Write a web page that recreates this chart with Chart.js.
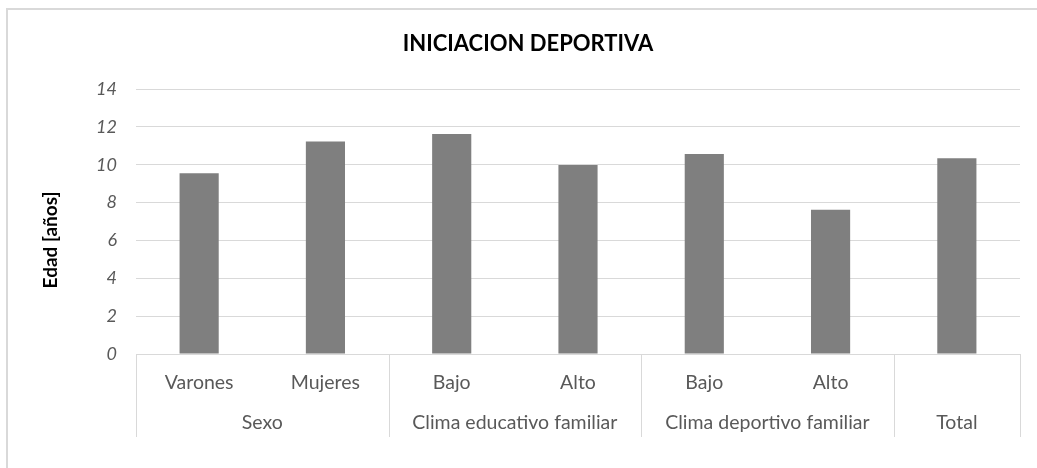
<!DOCTYPE html>
<html>
<head>
<meta charset="utf-8">
<script src="https://cdn.jsdelivr.net/npm/chart.js@4"></script>
<style>
  html, body { margin: 0; padding: 0; background: #fff; }
  #wrap { width: 1037px; height: 468px; }
</style>
</head>
<body>
<div id="wrap"><canvas id="barChart" width="1037" height="468"></canvas></div>
<script>
// values
var subLabels = ["Varones", "Mujeres", "Bajo", "Alto", "Bajo", "Alto", ""];
var edades = [9.55, 11.22, 11.62, 9.98, 10.57, 7.62, 10.34];
var grupos = ["Sexo", "Clima educativo familiar", "Clima deportivo familiar", "Total"];
var grupoSpan = [2, 2, 2, 1];
var yTicks = [0, 2, 4, 6, 8, 10, 12, 14];

var fontFam = "Lato, 'Open Sans', sans-serif";
var gridGray = '#d9d9d9';
var textGray = '#595959';

// title, axis title, grouped category row, outer frame
var extras = {
  id: 'extras',
  beforeDraw: function(chart) {
    var ctx = chart.ctx;
    ctx.save();
    ctx.strokeStyle = gridGray;
    ctx.lineWidth = 2;
    ctx.strokeRect(7, 9, 1200, 700);
    ctx.restore();
  },
  afterDraw: function(chart) {
    var ctx = chart.ctx;
    var xs = chart.scales.x;
    var area = chart.chartArea;
    var step = (area.right - area.left) / subLabels.length;
    ctx.save();
    // titulo
    ctx.fillStyle = '#000';
    ctx.font = "bold 22px " + fontFam;
    ctx.textAlign = 'center';
    ctx.textBaseline = 'middle';
    ctx.fillText("INICIACION DEPORTIVA", 528, 44);
    // titulo eje y
    ctx.save();
    ctx.translate(51, 240);
    ctx.rotate(-Math.PI / 2);
    ctx.font = "bold 19px " + fontFam;
    ctx.fillText("Edad [años]", 0, 0);
    ctx.restore();
    // separadores y grupos
    ctx.strokeStyle = gridGray;
    ctx.lineWidth = 1;
    var idx = 0;
    var bottomY = 437;
    function sep(i) {
      var x = Math.round(xs.getPixelForValue(i) - step / 2) + 0.5;
      ctx.beginPath();
      ctx.moveTo(x, area.bottom);
      ctx.lineTo(x, bottomY);
      ctx.stroke();
    }
    sep(0);
    ctx.fillStyle = textGray;
    ctx.font = "19.5px " + fontFam;
    for (var g = 0; g < grupos.length; g++) {
      var first = idx;
      var last = idx + grupoSpan[g] - 1;
      var cx = (xs.getPixelForValue(first) + xs.getPixelForValue(last)) / 2;
      ctx.fillText(grupos[g], cx, 423);
      idx += grupoSpan[g];
      sep(idx);
    }
    ctx.restore();
  }
};

var ctxB = document.getElementById('barChart').getContext('2d');
var myBarChart = new Chart(ctxB, {
  type: 'bar',
  data: {
    labels: subLabels,
    datasets: [{
      label: "Edad",
      data: edades,
      backgroundColor: '#7f7f7f',
      borderWidth: 0,
      categoryPercentage: 1,
      barPercentage: 0.31
    }]
  },
  options: {
    responsive: false,
    animation: false,
    layout: { padding: { top: 89, left: 20, right: 17, bottom: 0 } },
    plugins: {
      legend: { display: false },
      title: { display: false },
      tooltip: { enabled: false }
    },
    scales: {
      x: {
        afterFit: function(scale) { scale.height = 114; },
        grid: { display: false, drawTicks: false },
        border: { display: true, color: gridGray },
        ticks: {
          padding: 17,
          color: textGray,
          font: { family: fontFam, size: 19.5 },
          maxRotation: 0,
          autoSkip: false
        }
      },
      y: {
        min: 0,
        max: 14,
        afterFit: function(scale) { scale.width = 116; },
        afterBuildTicks: function(scale) {
          scale.ticks = yTicks.map(function(v) { return { value: v }; });
        },
        grid: { color: gridGray, drawTicks: false },
        border: { display: false },
        ticks: {
          padding: 19,
          color: textGray,
          font: { family: fontFam, size: 18, style: 'italic' }
        }
      }
    }
  },
  plugins: [extras]
});
</script>
</body>
</html>
